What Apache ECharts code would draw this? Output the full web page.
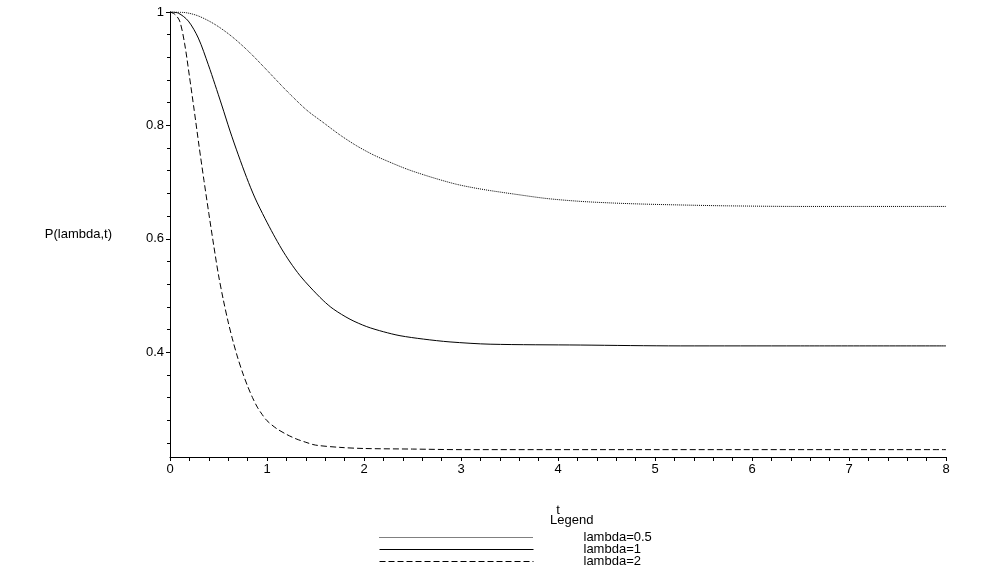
<!DOCTYPE html>
<html>
<head>
<meta charset="utf-8">
<script src="https://cdn.jsdelivr.net/npm/echarts@6/dist/echarts.min.js"></script>
<style>
html,body{margin:0;padding:0;background:#fff;}
#chart{width:994px;height:582px;}
</style>
</head>
<body>
<div id="chart"></div>
<script>
// lambda = 0.5 (dotted)
var t05 = [0, 0.155, 0.292, 0.464, 0.636, 0.807, 0.979, 1.151, 1.237, 1.409, 1.58, 1.753, 1.924, 2.096, 2.268, 2.44, 2.612, 2.784, 2.956, 3.127, 3.3, 3.54, 3.883, 4.227, 4.57, 4.914, 5.43, 5.77, 6.5, 7.2, 8];
var p05 = [1, 0.999, 0.993, 0.978, 0.957, 0.931, 0.901, 0.870, 0.855, 0.827, 0.805, 0.783, 0.764, 0.748, 0.735, 0.723, 0.713, 0.704, 0.696, 0.690, 0.685, 0.679, 0.671, 0.666, 0.663, 0.661, 0.659, 0.658, 0.657, 0.657, 0.657];
// lambda = 1 (solid)
var t1 = [0, 0.086, 0.189, 0.292, 0.395, 0.464, 0.533, 0.619, 0.704, 0.79, 0.876, 0.979, 1.065, 1.151, 1.237, 1.34, 1.443, 1.58, 1.684, 1.856, 2.028, 2.2, 2.371, 2.612, 2.887, 3.3, 4.23, 5.26, 6.5, 8];
var p1 = [1, 0.998, 0.984, 0.954, 0.907, 0.872, 0.836, 0.790, 0.748, 0.708, 0.672, 0.636, 0.608, 0.582, 0.559, 0.535, 0.515, 0.491, 0.476, 0.458, 0.445, 0.436, 0.429, 0.423, 0.418, 0.414, 0.4125, 0.411, 0.411, 0.411];
// lambda = 2 (dashed)
var t2 = [0, 0.05, 0.1, 0.15, 0.2, 0.25, 0.3, 0.35, 0.4, 0.45, 0.5, 0.55, 0.6, 0.65, 0.7, 0.75, 0.8, 0.85, 0.9, 0.95, 1.0, 1.1, 1.2, 1.3, 1.4, 1.5, 1.75, 2.0, 2.5, 3.0, 5.0, 8.0];
var p2 = [1, 0.996, 0.984, 0.945, 0.887, 0.826, 0.763, 0.703, 0.645, 0.589, 0.536, 0.492, 0.453, 0.419, 0.389, 0.363, 0.340, 0.320, 0.303, 0.290, 0.279, 0.265, 0.255, 0.247, 0.241, 0.236, 0.232, 0.230, 0.229, 0.228, 0.228, 0.228];

var seriesNames = ['lambda=0.5', 'lambda=1', 'lambda=2'];
var yLabelValues = [0.4, 0.6, 0.8, 1];
var yMinorValues = [0.24, 0.28, 0.32, 0.36, 0.44, 0.48, 0.52, 0.56, 0.64, 0.68, 0.72, 0.76, 0.84, 0.88, 0.92, 0.96];
var xMin = 0, xMax = 8, yMin = 0.215, yMax = 1;

function pairs(t, p) { return t.map(function (v, i) { return [v, p[i]]; }); }

var FONT = 'Liberation Sans, Arial, sans-serif';
var chart = echarts.init(document.getElementById('chart'), null, {renderer: 'canvas'});
chart.setOption({
  animation: false,
  backgroundColor: '#fff',
  title: {
    text: 'Legend', left: 545, top: 509,
    textStyle: {fontFamily: FONT, fontSize: 13, fontWeight: 'normal', color: '#000'}
  },
  legend: {
    orient: 'vertical', left: 379, top: 531, padding: 0,
    itemWidth: 154, itemHeight: 11, itemGap: -1,
    itemStyle: {opacity: 0},
    lineStyle: {width: 1},
    textStyle: {fontFamily: FONT, fontSize: 13, color: '#000', padding: [0, 0, 0, 45], lineHeight: 11},
    data: seriesNames
  },
  grid: {left: 170, right: 48, top: 12, bottom: 125, containLabel: false},
  xAxis: {
    type: 'value', min: xMin, max: xMax, interval: 1,
    name: 't', nameLocation: 'middle', nameGap: 47,
    nameTextStyle: {fontFamily: FONT, fontSize: 13, color: '#000'},
    axisLine: {show: true, onZero: false, lineStyle: {color: '#000', width: 1}},
    axisTick: {show: true, length: 4, lineStyle: {color: '#000'}},
    minorTick: {show: true, splitNumber: 5, length: 4, lineStyle: {color: '#000'}},
    axisLabel: {fontFamily: FONT, fontSize: 13, color: '#000', margin: 6},
    splitLine: {show: false}
  },
  yAxis: [{
    type: 'value', min: yMin, max: yMax,
    name: 'P(lambda,t)', nameLocation: 'middle', nameRotate: 0, nameGap: 58,
    nameTextStyle: {fontFamily: FONT, fontSize: 13, color: '#000'},
    axisLine: {show: true, onZero: false, lineStyle: {color: '#000', width: 1}},
    axisTick: {show: true, length: 4, customValues: yLabelValues, lineStyle: {color: '#000'}},
    axisLabel: {fontFamily: FONT, fontSize: 13, color: '#000', margin: 6, customValues: yLabelValues},
    splitLine: {show: false}
  }, {
    type: 'value', min: yMin, max: yMax, position: 'left',
    axisLine: {show: false},
    axisTick: {show: true, length: 3, customValues: yMinorValues, lineStyle: {color: '#000'}},
    axisLabel: {show: false},
    splitLine: {show: false}
  }],
  series: [{
    name: seriesNames[0], type: 'line', data: pairs(t05, p05), symbol: 'none', smooth: 0.3,
    lineStyle: {color: '#000', width: 1, type: 'dotted'}, itemStyle: {color: '#000'}
  }, {
    name: seriesNames[1], type: 'line', data: pairs(t1, p1), symbol: 'none', smooth: 0.3,
    lineStyle: {color: '#000', width: 1, type: 'solid'}, itemStyle: {color: '#000'}
  }, {
    name: seriesNames[2], type: 'line', data: pairs(t2, p2), symbol: 'none', smooth: 0.3,
    lineStyle: {color: '#000', width: 1, type: [6, 3]}, itemStyle: {color: '#000'}
  }]
});
</script>
</body>
</html>
